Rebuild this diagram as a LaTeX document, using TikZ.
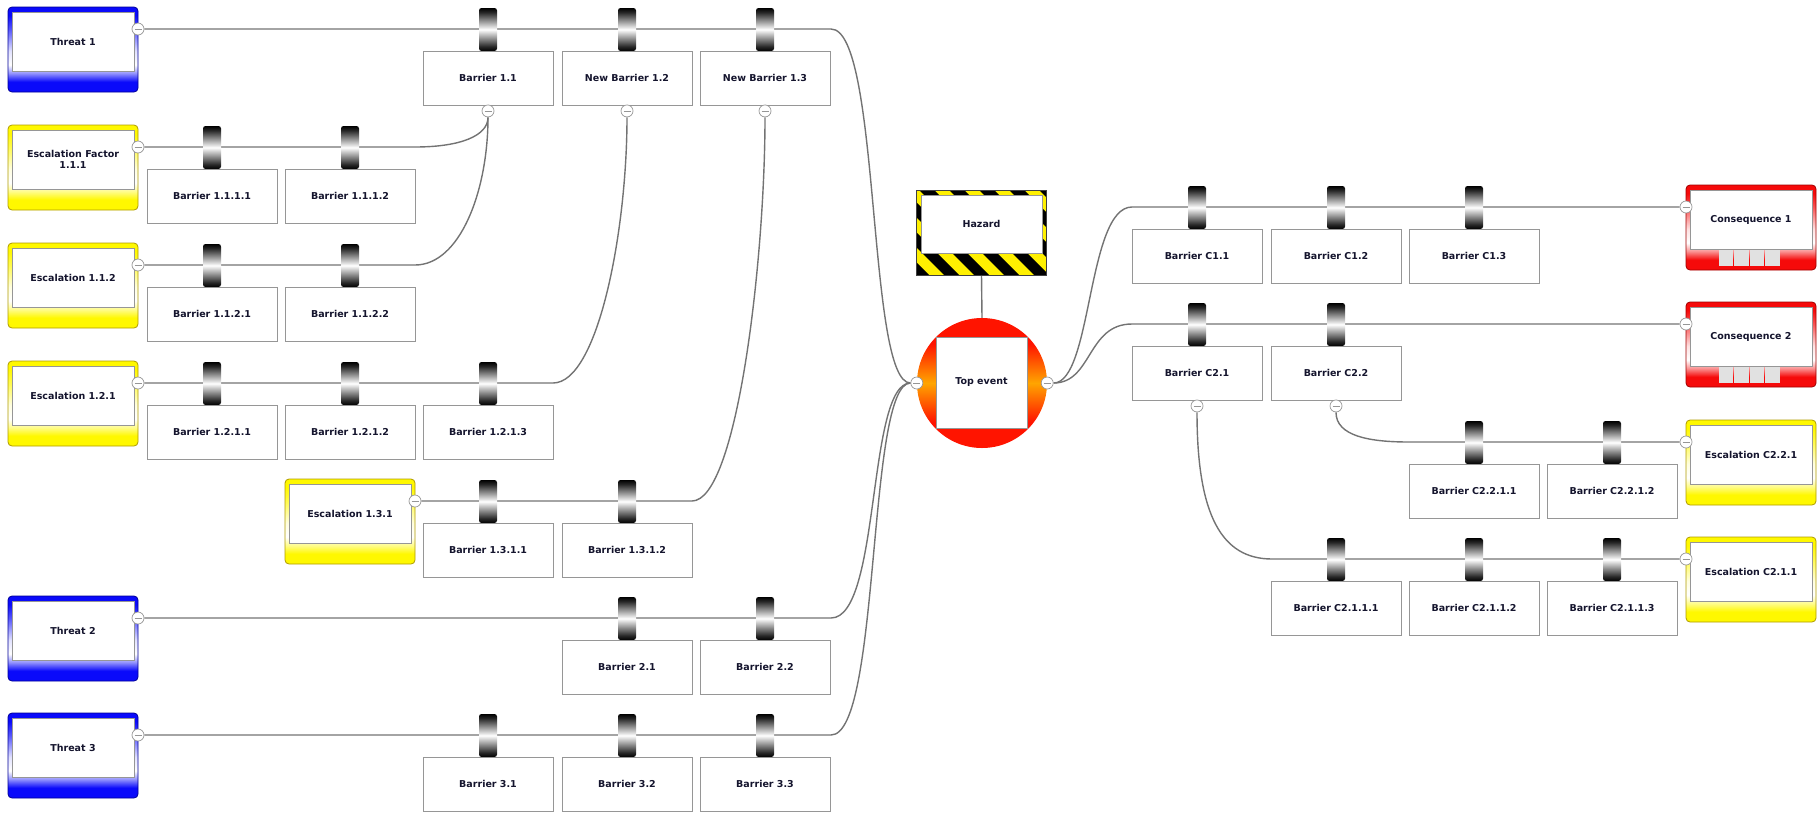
\documentclass[tikz,border=0pt]{standalone}
\usepackage{fontspec}
\setmainfont{DejaVu Sans}
\usetikzlibrary{calc,backgrounds}

% palette
\definecolor{tblue}{RGB}{10,10,250}
\definecolor{tblueline}{RGB}{0,0,150}
\definecolor{eyellow}{RGB}{255,248,0}
\definecolor{eyelline}{RGB}{175,155,0}
\definecolor{cred}{RGB}{245,10,10}
\definecolor{credline}{RGB}{160,0,0}
\definecolor{tered}{RGB}{255,20,0}
\definecolor{teorange}{RGB}{255,165,0}
\definecolor{hzyellow}{RGB}{255,240,0}
\definecolor{wirecol}{RGB}{115,115,115}
\definecolor{framecol}{RGB}{150,150,150}
\definecolor{ink}{RGB}{20,20,45}
\definecolor{cellgray}{RGB}{225,225,225}

% box shadings (path box maps to 25bp..75bp)
\pgfdeclareverticalshading{threatsh}{100bp}{color(0bp)=(tblue); color(25bp)=(tblue); color(31bp)=(tblue); color(36bp)=(tblue!45!white); color(41bp)=(white); color(49bp)=(tblue!12!white); color(62bp)=(tblue!70!white); color(70bp)=(tblue); color(100bp)=(tblue)}
\pgfdeclareverticalshading{escsh}{100bp}{color(0bp)=(eyellow); color(25bp)=(eyellow); color(31bp)=(eyellow); color(36bp)=(eyellow!45!white); color(41bp)=(white); color(49bp)=(eyellow!12!white); color(62bp)=(eyellow!70!white); color(70bp)=(eyellow); color(100bp)=(eyellow)}
\pgfdeclareverticalshading{consh}{100bp}{color(0bp)=(cred); color(25bp)=(cred); color(31bp)=(cred); color(36bp)=(cred!45!white); color(41bp)=(white); color(49bp)=(cred!12!white); color(62bp)=(cred!70!white); color(70bp)=(cred); color(100bp)=(cred)}
\pgfdeclareverticalshading{topsh}{100bp}{color(0bp)=(tered); color(25bp)=(tered); color(35bp)=(tered); color(50bp)=(teorange); color(65bp)=(tered); color(75bp)=(tered); color(100bp)=(tered)}
\pgfdeclareverticalshading{handlesh}{100bp}{color(0bp)=(black); color(25bp)=(black); color(30bp)=(black!85); color(50bp)=(white); color(70bp)=(black!85); color(75bp)=(black); color(100bp)=(black)}

\tikzset{
  lbl/.style={font=\fontsize{9.5}{11.5}\selectfont\bfseries, text=ink, align=center},
  barbox/.style={lbl, draw=framecol, line width=0.9pt, fill=white, minimum width=130pt, minimum height=54pt, inner sep=0pt},
  grip/.style={shade, shading=handlesh, minimum width=18pt, minimum height=43pt, inner sep=0pt, rounded corners=2.5pt},
  outerbox/.style={shade, minimum width=130pt, minimum height=85pt, inner sep=0pt, rounded corners=4pt, line width=0.8pt},
  threatframe/.style={outerbox, shading=threatsh, draw=tblueline},
  escframe/.style={outerbox, shading=escsh, draw=eyelline},
  conframe/.style={outerbox, shading=consh, draw=credline},
  whitebox/.style={barbox, minimum width=122pt, minimum height=59pt},
  knob/.style={circle, draw=framecol, fill=white, line width=0.7pt, minimum size=12pt, inner sep=0pt,
    path picture={\draw[framecol, line width=0.8pt] ([xshift=-3.5pt]path picture bounding box.center) -- ([xshift=3.5pt]path picture bounding box.center);}},
  wire/.style={draw=wirecol, line width=1.4pt},
}

% side box: name, frame style, left x, wire y, label, knob offset (130 = right edge, 0 = left edge)
\newcommand\sidebox[6]{%
  \node[#2] (#1) at (#3+65,#4+20.5) {};
  \node[whitebox] (#1-in) at (#3+65,#4+12.5) {#5};
  \node[knob] (#1-k) at (#3+#6,#4) {};
}
% barrier: name, left x, wire y, label
\newcommand\barrier[4]{%
  \node[grip] (#1-g) at (#2+65,#3+0.5) {};
  \node[barbox] (#1) at (#2+65,#3+49) {\raisebox{-2pt}{#4}};
}
\newcommand\barknob[1]{\node[knob] (#1-k) at ($(#1.south)+(0,5.5)$) {};}

\begin{document}
\begin{tikzpicture}[x=1pt,y=-1pt]
\useasboundingbox (0,0) rectangle (1818,812);

% ---------- causes ----------
\sidebox{t1}{threatframe}{8}{29}{Threat 1}{130}
\sidebox{e111}{escframe}{8}{147}{Escalation Factor\\1.1.1}{130}
\sidebox{e112}{escframe}{8}{265}{Escalation 1.1.2}{130}
\sidebox{e121}{escframe}{8}{383}{Escalation 1.2.1}{130}
\sidebox{e131}{escframe}{285}{501}{Escalation 1.3.1}{130}
\sidebox{t2}{threatframe}{8}{618}{Threat 2}{130}
\sidebox{t3}{threatframe}{8}{735}{Threat 3}{130}

\barrier{b11}{423}{29}{Barrier 1.1}
\barrier{b12}{562}{29}{New Barrier 1.2}
\barrier{b13}{700}{29}{New Barrier 1.3}
\barknob{b11}\barknob{b12}\barknob{b13}

\barrier{b1111}{147}{147}{Barrier 1.1.1.1}
\barrier{b1112}{285}{147}{Barrier 1.1.1.2}
\barrier{b1121}{147}{265}{Barrier 1.1.2.1}
\barrier{b1122}{285}{265}{Barrier 1.1.2.2}
\barrier{b1211}{147}{383}{Barrier 1.2.1.1}
\barrier{b1212}{285}{383}{Barrier 1.2.1.2}
\barrier{b1213}{423}{383}{Barrier 1.2.1.3}
\barrier{b1311}{423}{501}{Barrier 1.3.1.1}
\barrier{b1312}{562}{501}{Barrier 1.3.1.2}
\barrier{b21}{562}{618}{Barrier 2.1}
\barrier{b22}{700}{618}{Barrier 2.2}
\barrier{b31}{423}{735}{Barrier 3.1}
\barrier{b32}{562}{735}{Barrier 3.2}
\barrier{b33}{700}{735}{Barrier 3.3}

% ---------- hazard ----------
\node[fill=hzyellow, minimum width=129pt, minimum height=84pt, inner sep=0pt] (hz) at (981.5,233) {};
\begin{scope}
  \clip (hz.north west) rectangle (hz.south east);
  \foreach \s in {0,...,7}
    \fill[black] (830+30*\s,191) -- ++(15,0) -- ++(84,84) -- ++(-15,0) -- cycle;
\end{scope}
\draw[black!75, line width=0.7pt] (hz.north west) rectangle (hz.south east);
\node[whitebox, minimum width=121pt, minimum height=58pt] (hz-in) at (981.5,224) {Hazard};

% ---------- top event ----------
\node[circle, shade, shading=topsh, minimum size=130pt, inner sep=0pt] (te) at (982,383) {};
\node[whitebox, minimum width=91pt, minimum height=91pt] (te-in) at (981.5,382.5) {Top event};
\node[knob] (tel) at (te.west) {};
\node[knob] (ter) at (te.east) {};

% ---------- consequences ----------
\sidebox{c1}{conframe}{1686}{207}{Consequence 1}{0}
\sidebox{c2}{conframe}{1686}{324}{Consequence 2}{0}
\foreach \ly in {207,324}
  \foreach \k in {0,...,3}
    \fill[cellgray] (1718.5+15.5*\k,\ly+43) rectangle ++(14.5,16);
\sidebox{ec221}{escframe}{1686}{442}{Escalation C2.2.1}{0}
\sidebox{ec211}{escframe}{1686}{559}{Escalation C2.1.1}{0}

\barrier{bc11}{1132}{207}{Barrier C1.1}
\barrier{bc12}{1271}{207}{Barrier C1.2}
\barrier{bc13}{1409}{207}{Barrier C1.3}
\barrier{bc21}{1132}{324}{Barrier C2.1}
\barrier{bc22}{1271}{324}{Barrier C2.2}
\barknob{bc21}\barknob{bc22}
\barrier{bc2211}{1409}{442}{Barrier C2.2.1.1}
\barrier{bc2212}{1547}{442}{Barrier C2.2.1.2}
\barrier{bc2111}{1271}{559}{Barrier C2.1.1.1}
\barrier{bc2112}{1409}{559}{Barrier C2.1.1.2}
\barrier{bc2113}{1547}{559}{Barrier C2.1.1.3}

% ---------- wires ----------
\coordinate (t1e) at (831,29);
\coordinate (e111e) at (415,147);
\coordinate (e112e) at (415,265);
\coordinate (e121e) at (553,383);
\coordinate (e131e) at (692,501);
\coordinate (t2e) at (831,618);
\coordinate (t3e) at (831,735);
\coordinate (c1s) at (1132,207);
\coordinate (c2s) at (1132,324);
\coordinate (ec221s) at (1409,442);
\coordinate (ec211s) at (1272,559);

\begin{pgfonlayer}{background}
  \draw[wire] (t1-k) -- (t1e) .. controls +(50,0) and +(-50,0) .. (tel);
  \draw[wire] (t2-k) -- (t2e) .. controls +(50,0) and +(-50,0) .. (tel);
  \draw[wire] (t3-k) -- (t3e) .. controls +(50,0) and +(-50,0) .. (tel);
  \draw[wire] (e111-k) -- (e111e) .. controls +(45,0) and +(0,25) .. (b11-k);
  \draw[wire] (e112-k) -- (e112e) .. controls +(45,0) and +(0,80) .. (b11-k);
  \draw[wire] (e121-k) -- (e121e) .. controls +(45,0) and +(0,120) .. (b12-k);
  \draw[wire] (e131-k) -- (e131e) .. controls +(45,0) and +(0,150) .. (b13-k);
  \draw[wire] (hz.south) -- (te.north);
  \draw[wire] (ter) .. controls +(45,0) and +(-45,0) .. (c1s) -- (c1-k);
  \draw[wire] (ter) .. controls +(45,0) and +(-45,0) .. (c2s) -- (c2-k);
  \draw[wire] (bc22-k) .. controls +(0,30) and +(-40,0) .. (ec221s) -- (ec221-k);
  \draw[wire] (bc21-k) .. controls +(0,110) and +(-50,0) .. (ec211s) -- (ec211-k);
\end{pgfonlayer}
\end{tikzpicture}
\end{document}
